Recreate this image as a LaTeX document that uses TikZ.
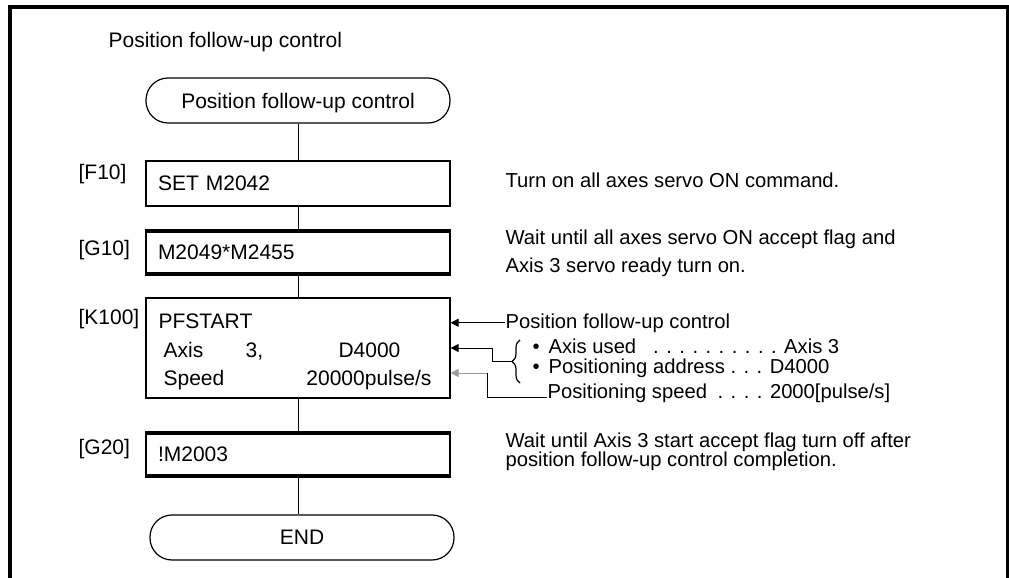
\documentclass[tikz,border=0pt]{standalone}
\usepackage{fontspec}
\setmainfont{Liberation Sans}
\usetikzlibrary{arrows.meta,positioning,calc,decorations.pathreplacing}
\definecolor{lead}{HTML}{9A9A9A}

\begin{document}
\begin{tikzpicture}[x=0.5pt,y=-0.5pt,line width=0.6pt,
  every node/.style={font=\fontsize{10.5}{12}\selectfont,inner sep=0pt},
  term/.style={draw,rounded corners=11pt,minimum width=152pt,minimum height=22.5pt},
  stepbox/.style={draw,minimum height=22.5pt,text width=140pt,inner xsep=6pt,align=left},
  steplabel/.style={anchor=base west},
  note/.style={font=\fontsize{10.1}{14}\selectfont,align=left},
  feed/.style={-{Triangle[length=4pt,width=4pt]},line width=0.5pt}]

  \useasboundingbox (0,0) rectangle (1009,578);
  % outer frame, open at the bottom
  \draw[line width=2pt] (10,578) -- (10,7) -- (1007.5,7) -- (1007.5,578);
  \node[anchor=base west] (title) at (108,47) {Position follow-up control};

  % flow chart
  \node[term,text depth=0pt] (start) at (298,100.5) {Position follow-up control};
  \node[stepbox] (f10) at (298,183.5) {SET M2042};
  \node[stepbox] (g10) at (298,252.5) {M2049*M2455};
  \node[draw,minimum width=152pt,minimum height=50pt] (k100) at (298,348) {};
  \node[stepbox] (g20) at (298,454.5) {!M2003};
  \node[term] (stop) at (302,537.5) {END};

  \foreach \b in {g10,g20} {
    \draw[line width=2pt] ([yshift=-1pt]\b.north west) -- ([yshift=-1pt]\b.north east);
    \draw[line width=2pt] ([yshift=1pt]\b.south west) -- ([yshift=1pt]\b.south east);
  }

  \draw[line width=0.5pt] (start) -- (f10);
  \draw[line width=0.5pt] (f10) -- (g10);
  \draw[line width=0.5pt] (g10) -- (k100);
  \draw[line width=0.5pt] (k100) -- (g20);
  \draw[line width=0.5pt] (g20.south) -- (g20.south |- stop.north);

  % step labels
  \node[steplabel] (lf10) at (78,179) {[F10]};
  \node[steplabel] (lg10) at (78,255) {[G10]};
  \node[steplabel] (lk100) at (78,324) {[K100]};
  \node[steplabel] (lg20) at (78,454) {[G20]};

  % servo program text
  \node[anchor=base west] (pfs) at (158,328) {PFSTART};
  \node[anchor=base west] (axl) at (163,357) {Axis};
  \node[anchor=base west] (axn) at (245,357) {3,};
  \node[anchor=base east] (axd) at (401,357) {D4000};
  \node[anchor=base west] (spl) at (163,385) {Speed};
  \node[anchor=base east] (spv) at (432,385) {20000pulse/s};

  % comments
  \node[note,anchor=base west] (n10) at (505,187) {Turn on all axes servo ON command.};
  \node[note,anchor=west] (n11) at (505,253.5)
    {Wait until all axes servo ON accept flag and\\Axis 3 servo ready turn on.};
  \node[note,anchor=west,font={\fontsize{10.1}{9.5}\selectfont\lineskiplimit=-6pt\relax}] (n20) at (505,452)
    {Wait until Axis 3 start accept flag turn off after\\position follow-up control completion.};

  \node[note,anchor=base west] (pfc) at (505,328) {Position follow-up control};
  \node[note,anchor=base west] (used) at (532,353)
    {\textbullet\hspace{4.5pt}Axis used\hspace{5.7pt} . . . . . . . . . . Axis 3};
  \node[note,anchor=base west] (addr) at (532,373)
    {\textbullet\hspace{4.5pt}Positioning address . . . D4000};
  \node[note,anchor=base west] (spd) at (547,398)
    {Positioning speed\hspace{2.5pt} . . . . 2000[pulse/s]};

  \draw[decorate,decoration={brace,amplitude=4pt},line width=0.6pt] (520,383) -- (520,340);
  \coordinate (bracetip) at (512,361.5);
  \coordinate (bend) at (487,397);
  \coordinate (turn) at (487,373);

  % parameter arrows
  \draw[feed] (pfc.west) -- (k100.east |- pfc.west);
  \draw[feed] (bracetip) -- ++(-20,0) |- (k100.east);
  \draw[line width=0.5pt] (spd.west |- bend) -- (bend) -- (turn);
  \draw[feed,lead] (turn) -- (k100.east |- turn);
\end{tikzpicture}
\end{document}
